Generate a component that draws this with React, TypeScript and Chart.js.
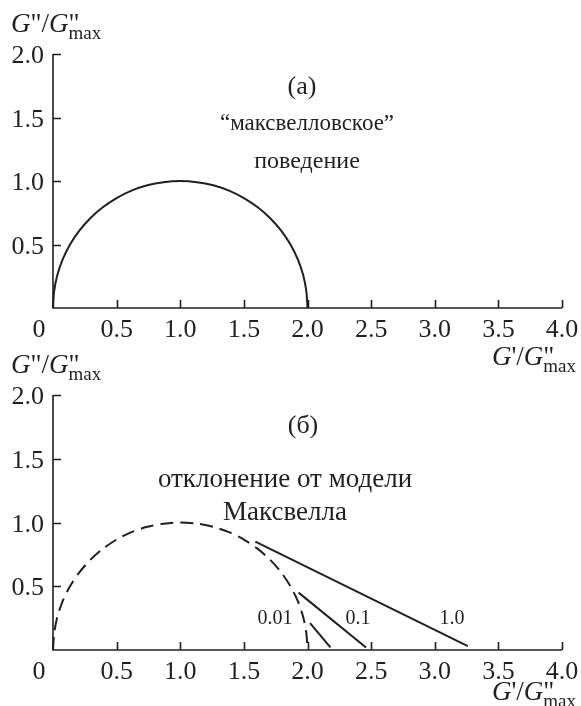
import React, { useEffect, useRef } from 'react';
import { Chart, registerables } from 'chart.js';

Chart.register(...registerables);

// ---------- data ----------
const xTickValues = [0.5, 1.0, 1.5, 2.0, 2.5, 3.0, 3.5, 4.0];
const xTickLabels = ['0.5', '1.0', '1.5', '2.0', '2.5', '3.0', '3.5', '4.0'];
const originLabel = '0';
const yTickValues = [0.5, 1.0, 1.5, 2.0];
const yTickLabels = ['0.5', '1.0', '1.5', '2.0'];

// Maxwell semicircle G'' vs G'
const maxwellX = [0, 0.009, 0.034, 0.076, 0.134, 0.207, 0.293, 0.391, 0.5, 0.617, 0.741, 0.869, 1.0,
  1.131, 1.259, 1.383, 1.5, 1.609, 1.707, 1.793, 1.866, 1.924, 1.966, 1.991, 2.0];
const maxwellY = [0, 0.131, 0.259, 0.383, 0.5, 0.609, 0.707, 0.793, 0.866, 0.924, 0.966, 0.991, 1.0,
  0.991, 0.966, 0.924, 0.866, 0.793, 0.707, 0.609, 0.5, 0.383, 0.259, 0.131, 0];

// deviation lines (panel б)
const dev10X = [1.59, 3.26];
const dev10Y = [0.85, 0.03];
const dev01X = [1.93, 2.46];
const dev01Y = [0.45, 0.02];
const dev001X = [2.02, 2.18];
const dev001Y = [0.21, 0.02];
const devLabels = ['1.0', '0.1', '0.01'];

const panelLabels = ['(а)', '(б)'];
const textA = ['“максвелловское”', 'поведение'];
const textB = ['отклонение от модели', 'Максвелла'];

// ---------- helpers ----------
const SERIF = "'Liberation Serif', 'Times New Roman', serif";
const INK = '#231f20';

const pts = (xs: number[], ys: number[]) => xs.map((x, i) => ({ x, y: ys[i] }));

function drawRatioTitle(ctx: CanvasRenderingContext2D, xStart: number, baseline: number, firstPrime: string, alignRight: boolean) {
  const big = 27;
  const small = 19;
  const parts: { t: string; font: string; dy: number; advance: boolean }[] = [
    { t: 'G', font: `italic ${big}px ${SERIF}`, dy: 0, advance: true },
    { t: firstPrime, font: `${big}px ${SERIF}`, dy: 0, advance: true },
    { t: '/', font: `${big}px ${SERIF}`, dy: 0, advance: true },
    { t: 'G', font: `italic ${big}px ${SERIF}`, dy: 0, advance: true },
    { t: '"', font: `${big}px ${SERIF}`, dy: 0, advance: false },
    { t: 'max', font: `${small}px ${SERIF}`, dy: 7, advance: true },
  ];
  let total = 0;
  for (const p of parts) {
    ctx.font = p.font;
    if (p.advance) total += ctx.measureText(p.t).width;
  }
  let x = alignRight ? xStart - total : xStart;
  ctx.textAlign = 'left';
  ctx.textBaseline = 'alphabetic';
  for (const p of parts) {
    ctx.font = p.font;
    ctx.fillText(p.t, x, baseline + p.dy);
    if (p.advance) x += ctx.measureText(p.t).width;
  }
}

function makeDecor(panel: 'a' | 'b') {
  return {
    id: 'decor' + panel,
    afterDraw(chart: any) {
      const { ctx, chartArea: ca } = chart;
      const xs = chart.scales.x;
      const ys = chart.scales.y;
      ctx.save();
      ctx.strokeStyle = INK;
      ctx.fillStyle = INK;
      ctx.lineWidth = 1.6;
      // axes
      ctx.beginPath();
      ctx.moveTo(ca.left, ca.top);
      ctx.lineTo(ca.left, ca.bottom);
      ctx.lineTo(ca.right, ca.bottom);
      ctx.stroke();
      // ticks (inward)
      ctx.beginPath();
      yTickValues.forEach((v) => {
        const py = Math.round(ys.getPixelForValue(v)) + 0.5;
        ctx.moveTo(ca.left, py);
        ctx.lineTo(ca.left + 8, py);
      });
      xTickValues.forEach((v) => {
        const px = Math.round(xs.getPixelForValue(v)) + 0.5;
        ctx.moveTo(px, ca.bottom);
        ctx.lineTo(px, ca.bottom - 8);
      });
      ctx.stroke();
      // tick labels
      ctx.font = `26px ${SERIF}`;
      ctx.textBaseline = 'alphabetic';
      ctx.textAlign = 'right';
      yTickValues.forEach((v, i) => {
        ctx.fillText(yTickLabels[i], ca.left - 9, ys.getPixelForValue(v) + 9);
      });
      ctx.textAlign = 'center';
      xTickValues.forEach((v, i) => {
        ctx.fillText(xTickLabels[i], xs.getPixelForValue(v), ca.bottom + 29);
      });
      ctx.fillText(originLabel, xs.getPixelForValue(0) - 14, ca.bottom + 29);
      // axis titles
      drawRatioTitle(ctx, 11, ca.top - 22, '"', false);
      drawRatioTitle(ctx, ca.right + 14, ca.bottom + (panel === 'a' ? 57 : 50), "'", true);
      // annotations
      ctx.textAlign = 'center';
      if (panel === 'a') {
        ctx.font = `26px ${SERIF}`;
        ctx.fillText(panelLabels[0], 302, ca.top + 40);
        ctx.font = `23px ${SERIF}`;
        ctx.fillText(textA[0], 307, ca.top + 76);
        ctx.font = `24px ${SERIF}`;
        ctx.fillText(textA[1], 307, ca.top + 114);
      } else {
        ctx.font = `26px ${SERIF}`;
        ctx.fillText(panelLabels[1], 303, ca.top + 38);
        ctx.font = `27px ${SERIF}`;
        ctx.fillText(textB[0], 285, ca.top + 92);
        ctx.fillText(textB[1], 285, ca.top + 125);
        ctx.font = `20px ${SERIF}`;
        ctx.fillText(devLabels[0], 452, ca.top + 229);
        ctx.fillText(devLabels[1], 358, ca.top + 229);
        ctx.fillText(devLabels[2], 275, ca.top + 229);
      }
      ctx.restore();
    },
  };
}

function makeConfig(panel: 'a' | 'b', padding: any): any {
  const lineStyle = { borderColor: INK, borderWidth: 2, pointRadius: 0, showLine: true, fill: false, clip: false };
  const datasets =
    panel === 'a'
      ? [{ ...lineStyle, data: pts(maxwellX, maxwellY), tension: 0.3 }]
      : [
          { ...lineStyle, data: pts(maxwellX, maxwellY), tension: 0.3, borderDash: [13, 7] },
          { ...lineStyle, data: pts(dev10X, dev10Y) },
          { ...lineStyle, data: pts(dev01X, dev01Y) },
          { ...lineStyle, data: pts(dev001X, dev001Y) },
        ];
  return {
    type: 'scatter',
    data: { datasets },
    options: {
      responsive: false,
      maintainAspectRatio: false,
      animation: false,
      devicePixelRatio: 1,
      layout: { padding },
      plugins: { legend: { display: false }, tooltip: { enabled: false }, title: { display: false } },
      scales: {
        x: { type: 'linear', min: 0, max: 4, display: false },
        y: { type: 'linear', min: 0, max: 2, display: false },
      },
    },
    plugins: [makeDecor(panel)],
  };
}

export default function App() {
  const refA = useRef<HTMLCanvasElement>(null);
  const refB = useRef<HTMLCanvasElement>(null);
  useEffect(() => {
    const a = new Chart(refA.current as HTMLCanvasElement, makeConfig('a', { left: 53, top: 54, right: 19, bottom: 82 }));
    const b = new Chart(refB.current as HTMLCanvasElement, makeConfig('b', { left: 53, top: 55, right: 19, bottom: 56 }));
    return () => {
      a.destroy();
      b.destroy();
    };
  }, []);
  return (
    <div style={{ position: 'absolute', left: 0, top: 0, width: 581, height: 706, background: '#fff', overflow: 'hidden' }}>
      <canvas ref={refA} width={581} height={390} style={{ position: 'absolute', left: 0, top: 0, width: 581, height: 390 }} />
      <canvas ref={refB} width={581} height={366} style={{ position: 'absolute', left: 0, top: 340, width: 581, height: 366 }} />
    </div>
  );
}
